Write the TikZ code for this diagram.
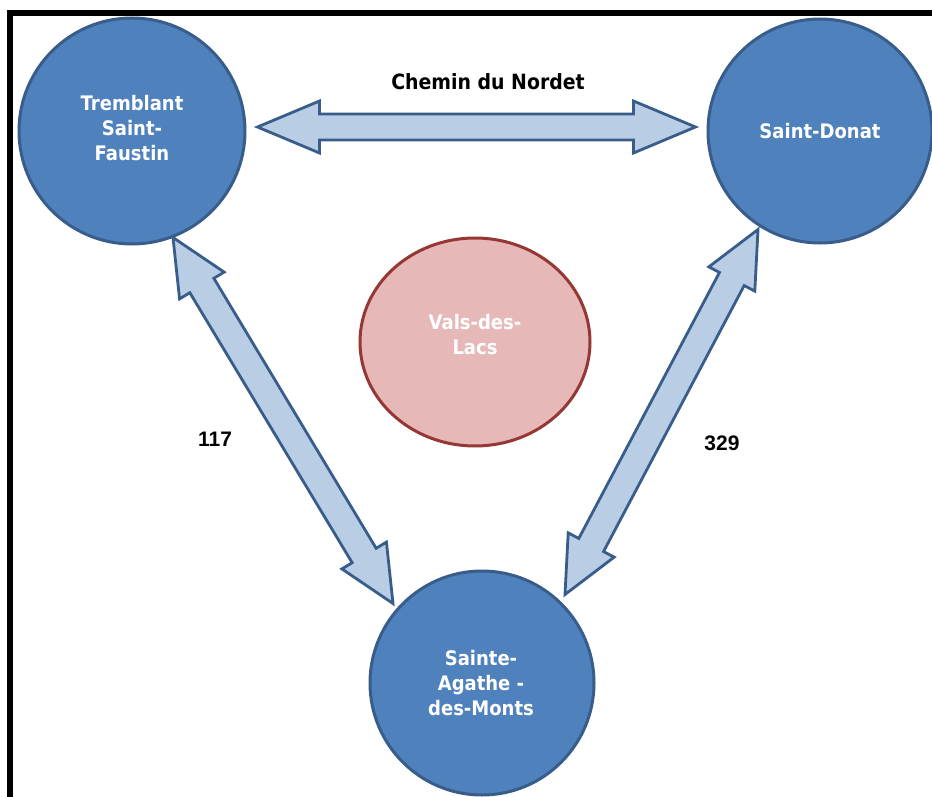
\documentclass[tikz,border=0pt]{standalone}
\usepackage{fontspec}
\setmainfont{DejaVu Sans}[FakeStretch=0.9]
\newfontfamily\arialf{Liberation Sans}
\usetikzlibrary{calc,shapes.geometric}
\definecolor{cblue}{HTML}{4F81BD}
\definecolor{cblueline}{HTML}{385D8A}
\definecolor{afill}{HTML}{B9CDE5}
\definecolor{pfill}{HTML}{E6B9B8}
\definecolor{pline}{HTML}{953735}
\tikzset{
  bluec/.style={circle, draw=cblueline, fill=cblue, line width=3pt, inner sep=0pt},
  pinkc/.style={ellipse, draw=pline, fill=pfill, line width=3pt, inner sep=0pt},
  ctext/.style={text=white, align=center, font=\bfseries\fontsize{20}{25}\selectfont},
  arrowstyle/.style={draw=cblueline, fill=afill, line width=2.8pt, line join=miter},
  roadlabel/.style={text=black, font=\bfseries\fontsize{21}{24}\selectfont},
  numlabel/.style={text=black, font=\arialf\bfseries\fontsize{21}{22}\selectfont},
}
% #1,#2 tips; #3 head length; #4 head half width; #5 shaft half width
\newcommand\dblarrow[5]{%
  \path coordinate (h1) at ($(#1)!#3!(#2)$) coordinate (h2) at ($(#2)!#3!(#1)$);
  \draw[arrowstyle] (#1)
    -- ($(h1)!#4!90:(#2)$) -- ($(h1)!#5!90:(#2)$)
    -- ($(h2)!#5!-90:(#1)$) -- ($(h2)!#4!-90:(#1)$)
    -- (#2)
    -- ($(h2)!#4!90:(#1)$) -- ($(h2)!#5!90:(#1)$)
    -- ($(h1)!#5!-90:(#2)$) -- ($(h1)!#4!-90:(#2)$)
    -- cycle;
}
\begin{document}
\begin{tikzpicture}[x=1pt,y=-1pt]
\useasboundingbox (0,0) rectangle (932,797);
\fill[white] (0,0) rectangle (932,797);
% frame
\fill[black] (7,10) rectangle (13,797);
\fill[black] (7,10) rectangle (932,16);
% nodes
\node[bluec, minimum size=226pt] (tf) at (132,131) {};
\node[bluec, minimum size=224pt] (sd) at (820,131) {};
\node[bluec, minimum size=224pt] (sa) at (482,683) {};
\node[pinkc, minimum width=230pt, minimum height=208pt] (vl) at (475,342) {};
\node[ctext] (tft) at (132,128) {Tremblant\\Saint-\\Faustin};
\node[ctext] (sdt) at (820,131) {Saint-Donat};
\node[ctext] (sat) at (481,683) {Sainte-\\Agathe -\\des-Monts};
\node[ctext] (vlt) at (475,335) {Vals-des-\\Lacs};
% arrow tips
\coordinate (a1) at ($(tf.east)+(11,-4)$);
\coordinate (a2) at ($(sd.west)+(-11,-4)$);
\coordinate (b1) at ($(tf.south)+(41,-8)$);
\coordinate (b2) at ($(sa.north)+(-89,34)$);
\coordinate (c1) at ($(sd.south)+(-62,-15)$);
\coordinate (c2) at ($(sa.north)+(83,25)$);
\dblarrow{a1}{a2}{62pt}{26pt}{13pt}
\dblarrow{b1}{b2}{56pt}{26pt}{14pt}
\dblarrow{c1}{c2}{56pt}{26pt}{14pt}
% labels
\node[roadlabel] (road) at (488,82) {Chemin du Nordet};
\node[numlabel] (n117) at (215,439) {117};
\node[numlabel] (n329) at (722,443) {329};
\end{tikzpicture}
\end{document}
